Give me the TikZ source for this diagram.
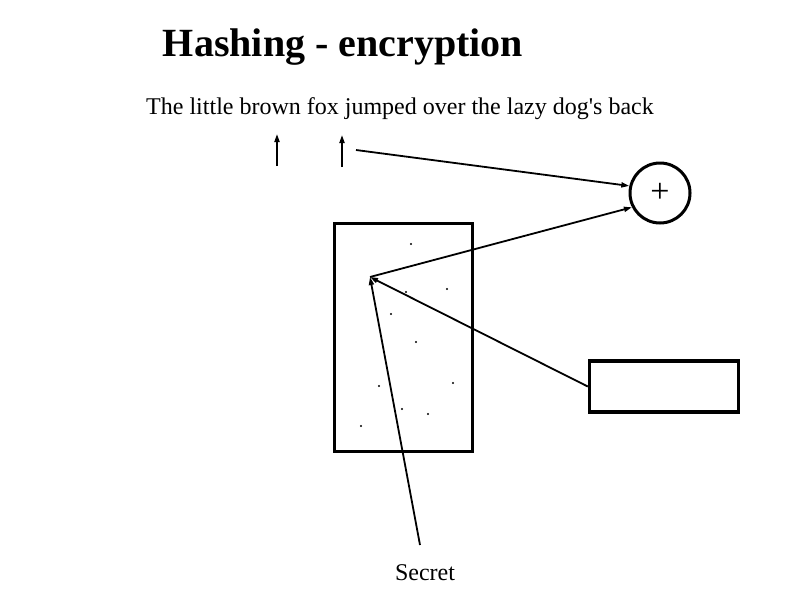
\documentclass[tikz,border=0pt]{standalone}
\usepackage{fontspec}
\setmainfont{Liberation Serif}
\usetikzlibrary{arrows.meta}
\begin{document}
\begin{tikzpicture}[x=1pt, y=-1pt, >={Triangle[length=8pt, width=5pt]}]
  \useasboundingbox (0,0) rectangle (794,595);
  \node[font=\fontsize{40}{44}\selectfont\bfseries] (title) at (343,47) {Hashing - encryption};
  \node[font=\fontsize{24}{28}\selectfont] (phrase) at (400,109) {The little brown fox jumped over the lazy dog\textquotesingle s back};
  \node[draw, line width=3.5pt, minimum width=138pt, minimum height=228pt] (hashbox) at (403.5,337.5) {};
  \node[draw, line width=3.5pt, minimum width=149pt, minimum height=51pt] (keybox) at (664,386.5) {};
  \node[draw, circle, line width=3pt, minimum size=60pt, inner sep=0pt] (plus) at (660,193) {};
  \node[font=\fontsize{34}{36}\selectfont] (plussign) at (plus.center) {+};
  \node[font=\fontsize{24}{28}\selectfont] (secret) at (425,573) {Secret};
  \coordinate (hub) at (370,277);
  \coordinate (up1) at (277,166);
  \coordinate (up1end) at (277,134);
  \coordinate (up2) at (342,167);
  \coordinate (up2end) at (342,135);
  \coordinate (tail) at (356,150);
  \coordinate (snk) at (420,545);
  \foreach \px/\py in {411/244, 447/289, 406/292, 391/314, 416/342, 379/386, 453/383, 402/409, 428/414, 361/426}
    \fill (\px,\py) circle (1.2pt);
  \draw[->, line width=1.8pt] (up1) -- (up1end);
  \draw[->, line width=1.8pt] (up2) -- (up2end);
  \draw[->, line width=1.8pt] (tail) -- (plus.167);
  \draw[->, line width=1.8pt] (hub) -- (plus.207);
  \draw[->, line width=1.8pt] (keybox.west) -- (hub);
  \draw[->, line width=1.8pt] (snk) -- (hub);
\end{tikzpicture}
\end{document}
